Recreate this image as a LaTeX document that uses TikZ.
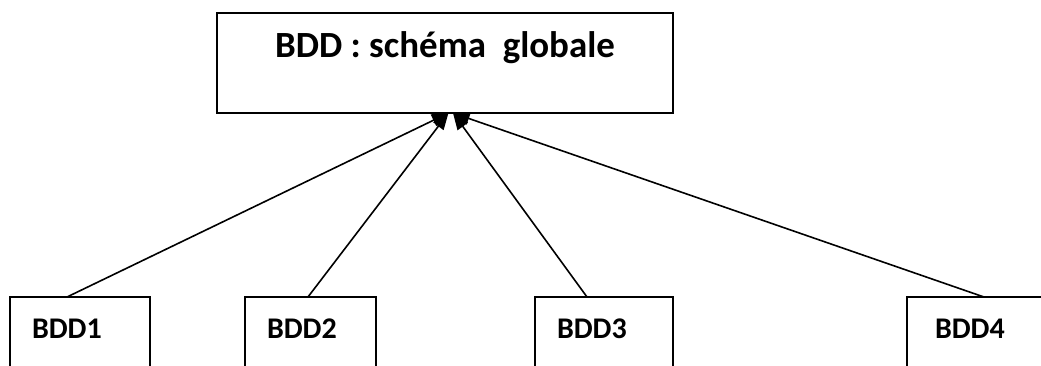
\documentclass[tikz,border=0pt]{standalone}
\usepackage{fontspec}
\setmainfont{Carlito}
\usetikzlibrary{arrows.meta}
\tikzset{
->, % every edge points up to the global schema
>={Triangle[length=12.5pt, width=9.5pt]}, % solid heads as in the sketch
globalbox/.style={draw, line width=1.4pt, inner sep=0pt, outer sep=0pt, anchor=north west,
  minimum width=342pt, text height=33pt, text depth=42pt, align=center,
  font=\bfseries\fontsize{27.7}{33}\selectfont},
bddbox/.style={draw, line width=1.4pt, inner xsep=16.5pt, inner ysep=0pt, outer sep=0pt,
  anchor=north west, text height=30.75pt, text depth=45pt, align=left,
  font=\bfseries\fontsize{22.5}{27}\selectfont}, % local bases, cut at the bottom
}
\begin{document}
\begin{tikzpicture}[x=0.75pt, y=-0.75pt, line width=1.2pt]
            \useasboundingbox (0,0) rectangle (1041,365);
            \clip (0,0) rectangle (1041,365);
            \node[globalbox] (global) at (217,13) {BDD : schéma\ \ globale};
            \node[bddbox, text width=72pt] (bdd1) at (10,297) {BDD1};
            \node[bddbox, text width=65.25pt] (bdd2) at (245,297) {BDD2};
            \node[bddbox, text width=70.5pt] (bdd3) at (535,297) {BDD3};
            \node[bddbox, inner xsep=21pt, text width=65.25pt] (bdd4) at (907,297) {BDD4};
            \path
                ([xshift=-9.75pt]bdd1.north) edge ([xshift=2.6pt]global.south)
                ([xshift=-1.9pt]bdd2.north) edge ([xshift=2.6pt]global.south)
                ([xshift=-12.75pt]bdd3.north) edge ([xshift=6pt]global.south)
                ([xshift=4.1pt]bdd4.north) edge ([xshift=6pt]global.south)
            ;
        \end{tikzpicture}
\end{document}
